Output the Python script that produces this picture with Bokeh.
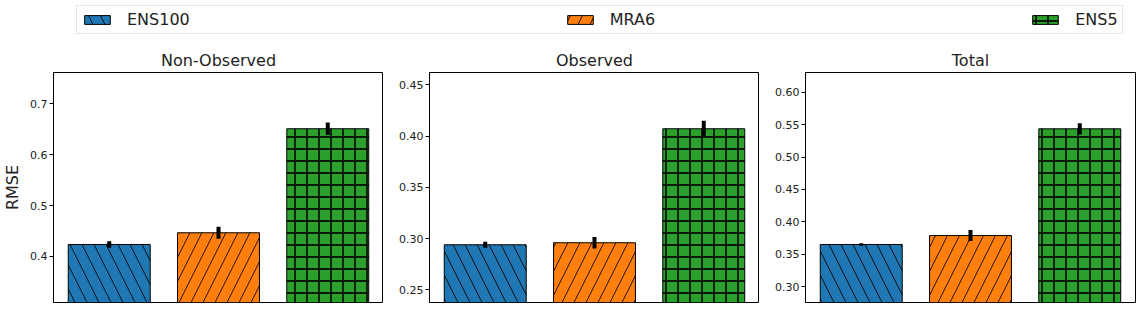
import numpy as np
from bokeh.plotting import figure
from bokeh.models import (Range1d, FactorRange, FixedTicker, PrintfTickFormatter,
                          Legend, LegendItem, ColumnDataSource)
from bokeh.layouts import column, row
from bokeh.embed import file_html
from bokeh.resources import INLINE

# ---------------- data ----------------
methods = ["ENS100", "MRA6", "ENS5"]
panels = ["Non-Observed", "Observed", "Total"]
ens100 = [0.4236, 0.2939, 0.3652]
mra6 = [0.4466, 0.2959, 0.3790]
ens5 = [0.6510, 0.4071, 0.5435]
ens100_err = [0.0063, 0.0030, 0.0020]
mra6_err = [0.0118, 0.0057, 0.0085]
ens5_err = [0.0124, 0.0078, 0.0087]
y_limits = [(0.3096, 0.7615), (0.2376, 0.4620), (0.2758, 0.6303)]
y_ticks = [[0.4, 0.5, 0.6, 0.7],
           [0.25, 0.30, 0.35, 0.40, 0.45],
           [0.30, 0.35, 0.40, 0.45, 0.50, 0.55, 0.60]]
tick_formats = ["%.1f", "%.2f", "%.2f"]

# ---------------- style ----------------
FONT = "DejaVu Sans"
colors = ["#1f77b4", "#ff7f0e", "#2ca02c"]
hatches = ["\\", "/", "+"]
hatch_scales = [24, 24, 12]
hatch_weights = [1.0, 1.0, 1.8]
TXT = "#222222"

values = np.array([ens100, mra6, ens5])
errors = np.array([ens100_err, mra6_err, ens5_err])

border_left = [52, 46, 46]
border_right = [0, 0, 2]
TOP = 26
FRAME_W = 330
FRAME_H = 230

figs = []
first_source = None
for i, name in enumerate(panels):
    src = ColumnDataSource(dict(
        x=methods,
        top=list(values[:, i]),
        lower=list(values[:, i] - errors[:, i]),
        upper=list(values[:, i] + errors[:, i]),
        color=colors,
        hatch=hatches,
        hscale=hatch_scales,
        hweight=hatch_weights,
    ))
    if first_source is None:
        first_source = src
    p = figure(x_range=FactorRange(*methods, range_padding=0.0067),
               y_range=Range1d(*y_limits[i]),
               frame_width=FRAME_W, frame_height=FRAME_H,
               min_border_left=border_left[i], min_border_right=border_right[i],
               min_border_top=TOP, min_border_bottom=1,
               output_backend="svg", toolbar_location=None, title=name)
    p.vbar(x="x", top="top", bottom=y_limits[i][0] - 1, width=0.75, source=src,
           fill_color="color", line_color="black", line_width=1,
           hatch_pattern="hatch", hatch_scale="hscale", hatch_weight="hweight",
           hatch_color="black", hatch_alpha=0.85)
    p.segment(x0="x", y0="lower", x1="x", y1="upper", source=src,
              line_color="black", line_width=4)
    p.xaxis.visible = False
    p.xgrid.visible = False
    p.ygrid.visible = False
    p.outline_line_color = "black"
    p.outline_line_width = 1
    p.outline_line_alpha = 1
    p.title.align = "center"
    p.title.text_font = FONT
    p.title.text_font_size = "16px"
    p.title.text_font_style = "normal"
    p.title.text_color = TXT
    p.title.standoff = 5
    ax = p.yaxis[0]
    ax.ticker = FixedTicker(ticks=y_ticks[i])
    ax.formatter = PrintfTickFormatter(format=tick_formats[i])
    ax.minor_tick_line_color = None
    ax.major_tick_in = 0
    ax.major_tick_out = 4
    ax.major_tick_line_color = "black"
    ax.axis_line_color = "black"
    ax.major_label_text_font = FONT
    ax.major_label_text_font_size = "11px"
    ax.major_label_text_color = TXT
    ax.major_label_standoff = 2
    if i == 0:
        ax.axis_label = "RMSE"
        ax.axis_label_text_font = FONT
        ax.axis_label_text_font_size = "16px"
        ax.axis_label_text_font_style = "normal"
        ax.axis_label_text_color = TXT
        ax.axis_label_standoff = 5
    figs.append(p)

# ---------------- legend strip ----------------
LEG_H = 46
lf = figure(x_range=FactorRange(*methods), y_range=Range1d(0, 1),
            width=1136, height=LEG_H, min_border=0,
            x_axis_location=None, y_axis_location=None,
            output_backend="svg", toolbar_location=None)
lf.grid.visible = False
lf.outline_line_color = None
lr = lf.vbar(x="x", top="top", bottom=0, width=0.75, source=first_source,
             fill_color="color", line_color="black", line_width=1,
             hatch_pattern="hatch", hatch_scale="hscale", hatch_weight="hweight",
             hatch_color="black", hatch_alpha=0.85)
lr.visible = False
items = [LegendItem(label=m, renderers=[lr], index=k) for k, m in enumerate(methods)]
leg = Legend(items=items, orientation="horizontal", location=(76, 12),
             spacing=374, padding=4, margin=0,
             glyph_width=32, glyph_height=11, label_standoff=14,
             label_text_font=FONT, label_text_font_size="16px",
             label_text_color=TXT, label_height=17,
             border_line_color="#cccccc", border_line_width=1,
             background_fill_color="white", background_fill_alpha=1,
             inactive_fill_alpha=0)
lf.add_layout(leg, "center")

layout = column(lf, row(*figs, spacing=0), spacing=0)
open("out.html", "w").write(file_html(layout, INLINE))
